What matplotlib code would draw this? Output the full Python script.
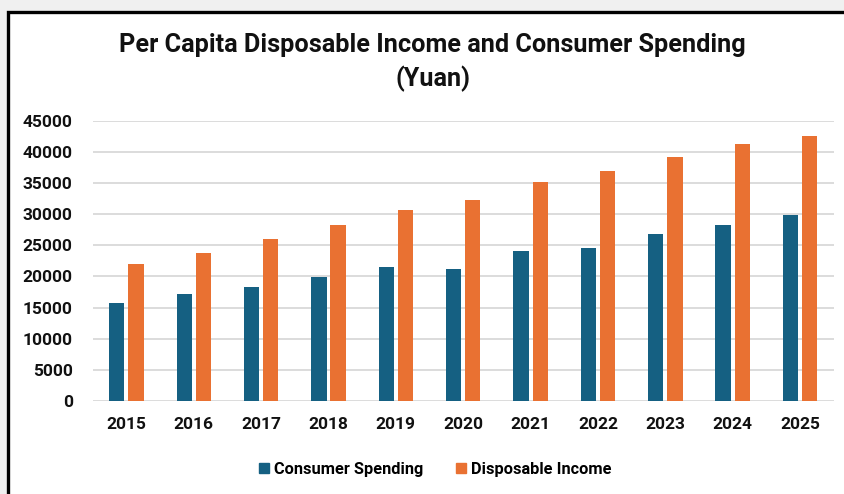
import matplotlib.pyplot as plt
from matplotlib.patches import Rectangle, Patch
import numpy as np

years = ["2015", "2016", "2017", "2018", "2019", "2020", "2021", "2022", "2023", "2024", "2025"]
consumer_spending = [15712, 17111, 18322, 19853, 21559, 21210, 24100, 24538, 26796, 28227, 29900]
disposable_income = [21966, 23821, 25974, 28228, 30733, 32189, 35128, 36883, 39218, 41314, 42500]
y_ticks = [0, 5000, 10000, 15000, 20000, 25000, 30000, 35000, 40000, 45000]

BLUE = "#156082"
ORANGE = "#e97132"
FONT = "Roboto"

W, H = 845, 494
fig = plt.figure(figsize=(W / 100, H / 100), dpi=100, facecolor="#f0f0f0")

# white chart card with a heavy black frame on the left/top
card = Rectangle((8.5 / W, -0.1), 1.2, 1 - 12 / H + 0.1, transform=fig.transFigure,
                 facecolor="white", edgecolor="black", linewidth=2.4, zorder=-10)
fig.patches.append(card)

ax = fig.add_axes([92.8 / W, 1 - 401 / H, (833.6 - 92.8) / W, (401 - 120.7) / H])
ax.set_facecolor("none")

x = np.arange(len(years))
w = 0.227
off = 0.143
ax.bar(x - off, consumer_spending, width=w, color=BLUE, zorder=3)
ax.bar(x + off, disposable_income, width=w, color=ORANGE, zorder=3)

ax.set_xlim(-0.5, len(years) - 0.5)
ax.set_ylim(0, 45000)
ax.set_yticks(y_ticks)
ax.set_yticklabels([str(v) for v in y_ticks])
ax.set_xticks(x)
ax.set_xticklabels(years)
ax.yaxis.grid(True, color="#d9d9d9", linewidth=1.3, zorder=0)
ax.set_axisbelow(True)
for s in ["top", "right", "left", "bottom"]:
    ax.spines[s].set_visible(False)
ax.tick_params(axis="both", length=0)
ax.tick_params(axis="y", pad=14.5)
ax.tick_params(axis="x", pad=11.5)
for lab in ax.get_yticklabels() + ax.get_xticklabels():
    lab.set_fontfamily(FONT)
    lab.set_fontweight("bold")
    lab.set_fontsize(12.5)
    lab.set_color("#111111")

fig.text(0.512, 1 - 45 / H, "Per Capita Disposable Income and Consumer Spending",
         ha="center", va="center", fontsize=18.2, fontweight="bold", fontfamily=FONT, color="#111111")
fig.text(0.512, 1 - 79 / H, "(Yuan)",
         ha="center", va="center", fontsize=18.2, fontweight="bold", fontfamily=FONT, color="#111111")

handles = [Patch(color=BLUE, label="Consumer Spending"),
           Patch(color=ORANGE, label="Disposable Income")]
fig.legend(handles=handles, loc="center", bbox_to_anchor=(0.515, 1 - 469 / H), ncol=2,
           frameon=False, handlelength=0.6, handleheight=0.6, handletextpad=0.3,
           columnspacing=2.0, prop={"family": FONT, "weight": "bold", "size": 11.8})

fig.savefig("out.png", dpi=100, facecolor=fig.get_facecolor())
